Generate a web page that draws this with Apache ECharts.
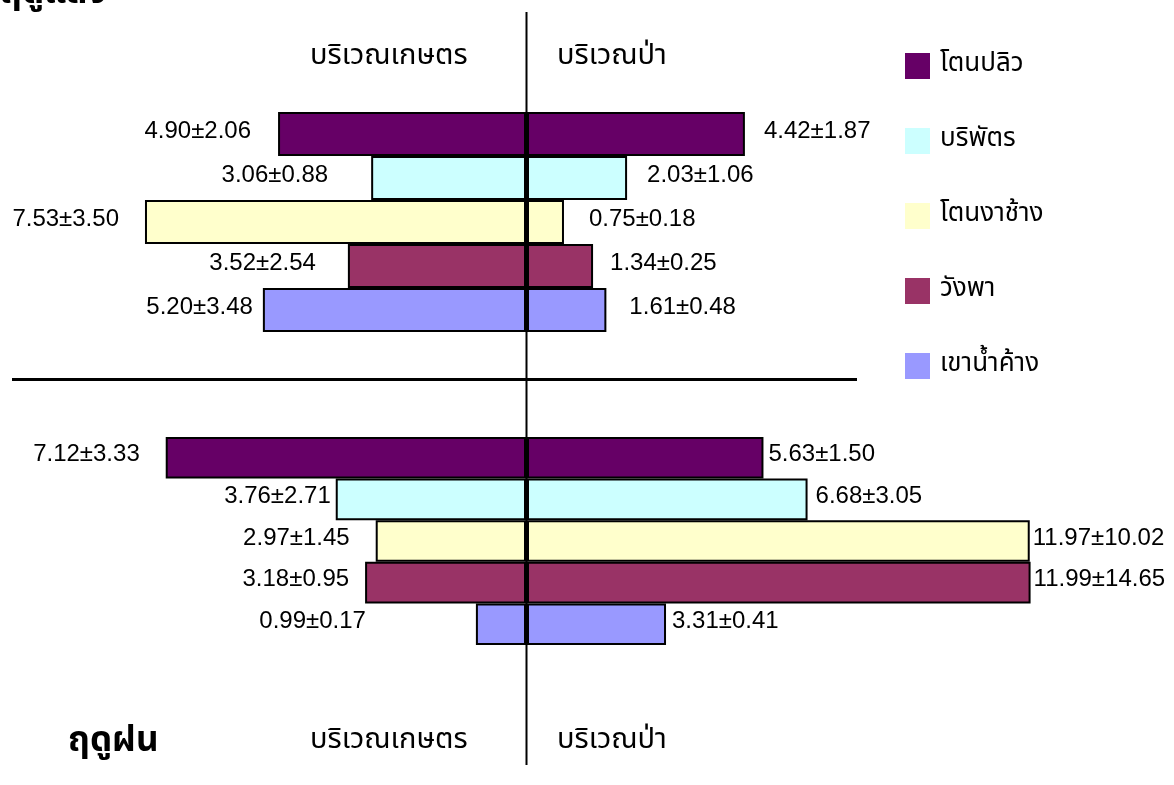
<!DOCTYPE html>
<html lang="th">
<head>
<meta charset="UTF-8">
<title>ฤดูแล้ง / ฤดูฝน</title>
<style>html,body{margin:0;padding:0;background:#fff;}</style>
</head>
<body>
<div id="chart" style="width:1174px;height:785px;"></div>
<script src="https://cdn.jsdelivr.net/npm/echarts@6/dist/echarts.min.js"></script>
<script>
var sites = ['โตนปลิว', 'บริพัตร', 'โตนงาช้าง', 'วังพา', 'เขาน้ำค้าง'];
var colors = ['#660066', '#CCFFFF', '#FFFFCC', '#993366', '#9999FF'];

// ฤดูแล้ง
var dryFarm = [4.90, 3.06, 7.53, 3.52, 5.20];
var dryFarmSd = [2.06, 0.88, 3.50, 2.54, 3.48];
var dryForest = [4.42, 2.03, 0.75, 1.34, 1.61];
var dryForestSd = [1.87, 1.06, 0.18, 0.25, 0.48];

// ฤดูฝน
var wetFarm = [7.12, 3.76, 2.97, 3.18, 0.99];
var wetFarmSd = [3.33, 2.71, 1.45, 0.95, 0.17];
var wetForest = [5.63, 6.68, 11.97, 11.99, 3.31];
var wetForestSd = [1.50, 3.05, 10.02, 14.65, 0.41];

var thai = '"Noto Sans Thai", "Noto Sans", "DejaVu Sans", sans-serif';
var latin = '"Liberation Sans", Arial, sans-serif';

// one panel per quadrant
var panels = [
    { mean: dryFarm, sd: dryFarmSd, left: 20, width: 506, top: 112, height: 220, max: 10, inverse: true, gaps: [27, 43, 26, 32, 10] },
    { mean: dryForest, sd: dryForestSd, left: 527, width: 493, top: 112, height: 220, max: 10, inverse: false, gaps: [19, 20, 25, 17, 23] },
    { mean: wetFarm, sd: wetFarmSd, left: 20, width: 506, top: 437, height: 208, max: 10, inverse: true, gaps: [26, 5, 26, 16, 110] },
    { mean: wetForest, sd: wetForestSd, left: 527, width: 504, top: 437, height: 208, max: 12, inverse: false, gaps: [5, 8, 3, 3, 6] }
];

var grid = [], xAxis = [], yAxis = [], series = [];
panels.forEach(function (p, q) {
    grid.push({ left: p.left, width: p.width, top: p.top, height: p.height });
    xAxis.push({ gridIndex: q, type: 'value', min: 0, max: p.max, inverse: p.inverse, show: false });
    yAxis.push({ gridIndex: q, type: 'category', data: sites, inverse: true, show: false });
    sites.forEach(function (name, i) {
        series.push({
            name: name,
            type: 'bar',
            xAxisIndex: q,
            yAxisIndex: q,
            stack: 'p' + q,
            barCategoryGap: 0,
            itemStyle: { color: colors[i], borderColor: '#000', borderWidth: 2 },
            label: {
                show: true,
                position: p.inverse ? 'left' : 'right',
                distance: p.gaps[i],
                offset: [0, -3],
                color: '#000',
                fontFamily: latin,
                fontSize: 24,
                formatter: function (d) {
                    return p.mean[i].toFixed(2) + '±' + p.sd[i].toFixed(2);
                }
            },
            emphasis: { disabled: true },
            data: sites.map(function (s, j) { return j === i ? p.mean[j] : '-'; })
        });
    });
});

var myChart = echarts.init(document.getElementById('chart'));
myChart.setOption({
    animation: false,
    textStyle: { fontFamily: thai },
    legend: {
        data: sites,
        orient: 'vertical',
        left: 900,
        top: 48,
        icon: 'rect',
        itemWidth: 25,
        itemHeight: 26,
        itemGap: 49,
        itemStyle: { borderWidth: 0 },
        textStyle: { fontFamily: thai, fontSize: 26, color: '#000', padding: [0, 0, 0, 5] }
    },
    grid: grid,
    xAxis: xAxis,
    yAxis: yAxis,
    series: series,
    graphic: [
        { type: 'line', shape: { x1: 526.5, y1: 12, x2: 526.5, y2: 765 }, style: { stroke: '#000', lineWidth: 2 }, z: 10 },
        { type: 'line', shape: { x1: 12, y1: 379.5, x2: 857, y2: 379.5 }, style: { stroke: '#000', lineWidth: 3 }, z: 10 },
        { type: 'text', left: 310, top: 44, style: { text: 'บริเวณเกษตร', font: '29px ' + thai, fill: '#000' } },
        { type: 'text', left: 557, top: 44, style: { text: 'บริเวณป่า', font: '29px ' + thai, fill: '#000' } },
        { type: 'text', left: 310, top: 728, style: { text: 'บริเวณเกษตร', font: '29px ' + thai, fill: '#000' } },
        { type: 'text', left: 557, top: 728, style: { text: 'บริเวณป่า', font: '29px ' + thai, fill: '#000' } },
        { type: 'text', left: 0, top: -22, style: { text: 'ฤดูแล้ง', font: 'bold 35px ' + thai, fill: '#000' } },
        { type: 'text', left: 68, top: 726, style: { text: 'ฤดูฝน', font: 'bold 35px ' + thai, fill: '#000' } }
    ]
});
</script>
</body>
</html>
